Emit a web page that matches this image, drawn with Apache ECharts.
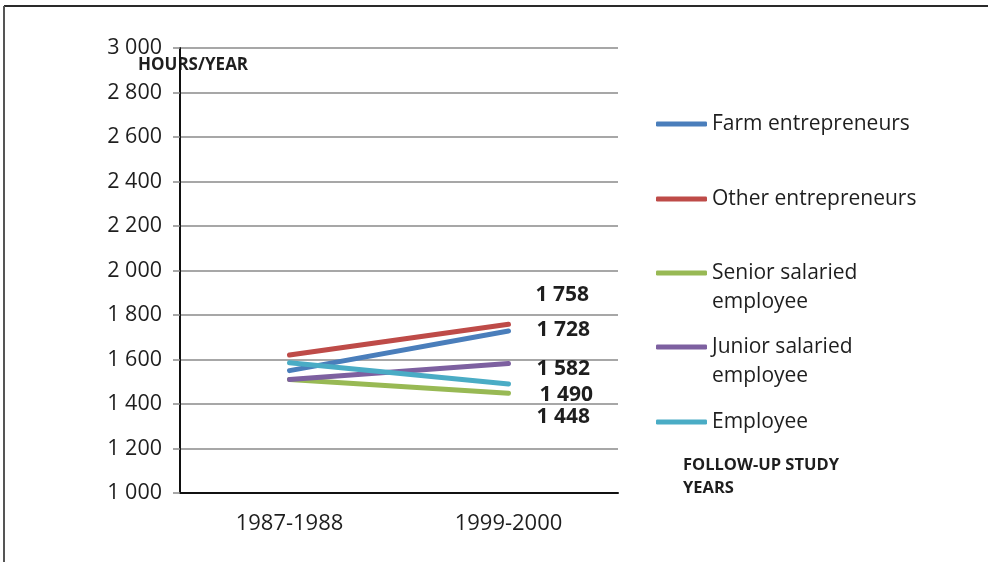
<!DOCTYPE html>
<html>
<head>
<meta charset="utf-8">
<script src="https://cdn.jsdelivr.net/npm/echarts@6/dist/echarts.min.js"></script>
<style>
  html, body { margin: 0; padding: 0; background: #ffffff; }
  #chart { width: 988px; height: 562px; }
</style>
</head>
<body>
<div id="chart"></div>
<script>
// Annual working hours by occupational group, two follow-up periods
const years = ['1987-1988', '1999-2000'];
const farmEntrepreneurs = [1550, 1728];
const otherEntrepreneurs = [1620, 1758];
const seniorSalaried = [1510, 1448];
const juniorSalaried = [1510, 1582];
const employee = [1585, 1490];

const seriesNames = ['Farm entrepreneurs', 'Other entrepreneurs', 'Senior salaried employee', 'Junior salaried employee', 'Employee'];
const legendTexts = ['Farm entrepreneurs', 'Other entrepreneurs', 'Senior salaried\nemployee', 'Junior salaried\nemployee', 'Employee'];
const seriesValues = [farmEntrepreneurs, otherEntrepreneurs, seniorSalaried, juniorSalaried, employee];

// styling
const colors = ['#4a7ebb', '#be4b48', '#98b954', '#7d60a0', '#4aacc5'];
const endLabelOffsets = [[28, -1], [27, -29], [28, 24], [28, 6], [31, 11]];
const legendCenters = [124, 199, 273, 347, 422];
const FONT = '"Open Sans", "Liberation Sans", sans-serif';

function fmt(v) {
  return String(v).replace(/\B(?=(\d{3})+(?!\d))/g, ' ');
}

const chart = echarts.init(document.getElementById('chart'), null, { renderer: 'canvas' });

const series = seriesNames.map((name, i) => ({
  name: name,
  type: 'line',
  symbol: 'none',
  color: colors[i],
  lineStyle: { width: 5, cap: 'round', color: colors[i] },
  data: seriesValues[i],
  endLabel: {
    show: true,
    distance: 0,
    offset: endLabelOffsets[i],
    formatter: (p) => fmt(p.value),
    fontFamily: FONT,
    fontWeight: 'bold',
    fontSize: 21,
    color: '#1e1e1e'
  },
  animation: false
}));

// one legend block per series; wrapped names get a blank leading line so the
// swatch lines up with the first line of text
const legends = seriesNames.map((name, i) => {
  const twoLine = legendTexts[i].indexOf('\n') >= 0;
  const lh = 29;
  return {
    data: [name],
    left: 656,
    top: legendCenters[i] - (twoLine ? lh * 1.5 : lh / 2),
    padding: 0,
    itemWidth: 51,
    itemHeight: 5,
    icon: 'roundRect',
    itemGap: 0,
    selectedMode: false,
    formatter: () => (twoLine ? ' \n' : '') + legendTexts[i],
    textStyle: {
      fontFamily: FONT,
      fontSize: 21,
      color: '#1e1e1e',
      lineHeight: lh
    }
  };
});

chart.setOption({
  backgroundColor: '#ffffff',
  animation: false,
  grid: { left: 180, right: 370, top: 48, bottom: 69, containLabel: false },
  legend: legends,
  xAxis: {
    type: 'category',
    data: years,
    boundaryGap: true,
    axisLine: { lineStyle: { color: '#111', width: 2 } },
    axisTick: { show: false },
    axisLabel: { fontFamily: FONT, fontSize: 22, color: '#1e1e1e', margin: 20 },
    splitLine: { show: false }
  },
  yAxis: {
    type: 'value',
    min: 1000,
    max: 3000,
    interval: 200,
    axisLine: { show: true, lineStyle: { color: '#111', width: 2 } },
    axisTick: { show: true, length: 7, lineStyle: { color: '#8a8a8a', width: 1.5 } },
    axisLabel: { fontFamily: FONT, fontSize: 21.5, color: '#1e1e1e', margin: 18, formatter: (v) => fmt(v) },
    splitLine: { show: true, lineStyle: { color: '#8a8a8a', width: 1.5 } }
  },
  series: series,
  graphic: [
    { type: 'line', silent: true, shape: { x1: 4, y1: 6, x2: 988, y2: 6 }, style: { stroke: '#2a2a2a', lineWidth: 2 } },
    { type: 'line', silent: true, shape: { x1: 4, y1: 6, x2: 4, y2: 562 }, style: { stroke: '#555', lineWidth: 2 } },
    { type: 'text', left: 138, top: 57, style: { text: 'HOURS/YEAR', fontFamily: FONT, fontWeight: 'bold', fontSize: 17, fill: '#1e1e1e' } },
    { type: 'text', left: 683, top: 454, style: { text: 'FOLLOW-UP STUDY\nYEARS', fontFamily: FONT, fontWeight: 'bold', fontSize: 16.5, lineHeight: 23, fill: '#1e1e1e' } }
  ]
});
</script>
</body>
</html>
